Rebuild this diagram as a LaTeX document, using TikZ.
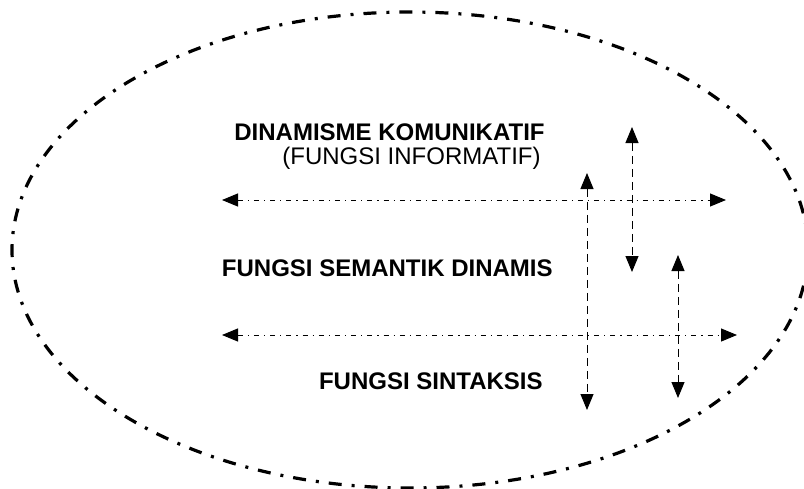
\documentclass[tikz,border=0pt]{standalone}
\usepackage{fontspec}
\setmainfont{Liberation Sans}
\usetikzlibrary{arrows.meta}

\begin{document}
\begin{tikzpicture}[x=0.5pt, y=-0.5pt,
    outline/.style ={line width=1.6pt, dash pattern=on 6.5pt off 5pt on 1.5pt off 5pt},
    levelline/.style ={line width=0.5pt, dash pattern=on 2.5pt off 2.5pt on 0.6pt off 2.5pt, {Triangle[length=8pt,width=6.5pt]}-{Triangle[length=8pt,width=6.5pt]}},
    linkline/.style ={line width=0.5pt, dash pattern=on 4pt off 2.5pt, {Triangle[length=8pt,width=6.5pt]}-{Triangle[length=8pt,width=6.5pt]}},
    boldlabel/.style ={font=\bfseries\fontsize{12}{14}\selectfont, inner sep=0pt, anchor=east},
    plainlabel/.style ={font=\fontsize{12}{14}\selectfont, inner sep=0pt, anchor=east}]
   \useasboundingbox (0,0) rectangle (804,488);
   \draw[outline] (410,250) ellipse [x radius=398, y radius=238];

   \node[boldlabel] (DK) at (545,132) {DINAMISME KOMUNIKATIF};
   \node[plainlabel] (FI) at (541,158) {(FUNGSI INFORMATIF)};
   \node[boldlabel] (FSD) at (553,268) {FUNGSI SEMANTIK DINAMIS};
   \node[boldlabel] (FS) at (543,381) {FUNGSI SINTAKSIS};

   \coordinate (H1a) at (222,200);
   \coordinate (H1b) at (726,200);
   \coordinate (H2a) at (222,335);
   \coordinate (H2b) at (737,335);
   \coordinate (V1a) at (587,173);
   \coordinate (V1b) at (587,410);
   \coordinate (V2a) at (632,127);
   \coordinate (V2b) at (632,272);
   \coordinate (V3a) at (678,255);
   \coordinate (V3b) at (678,398);

   \draw[levelline] (H1a) to (H1b);
   \draw[levelline] (H2a) to (H2b);
   \draw[linkline] (V1a) to (V1b);
   \draw[linkline] (V2a) to (V2b);
   \draw[linkline] (V3a) to (V3b);
 \end{tikzpicture}
\end{document}
